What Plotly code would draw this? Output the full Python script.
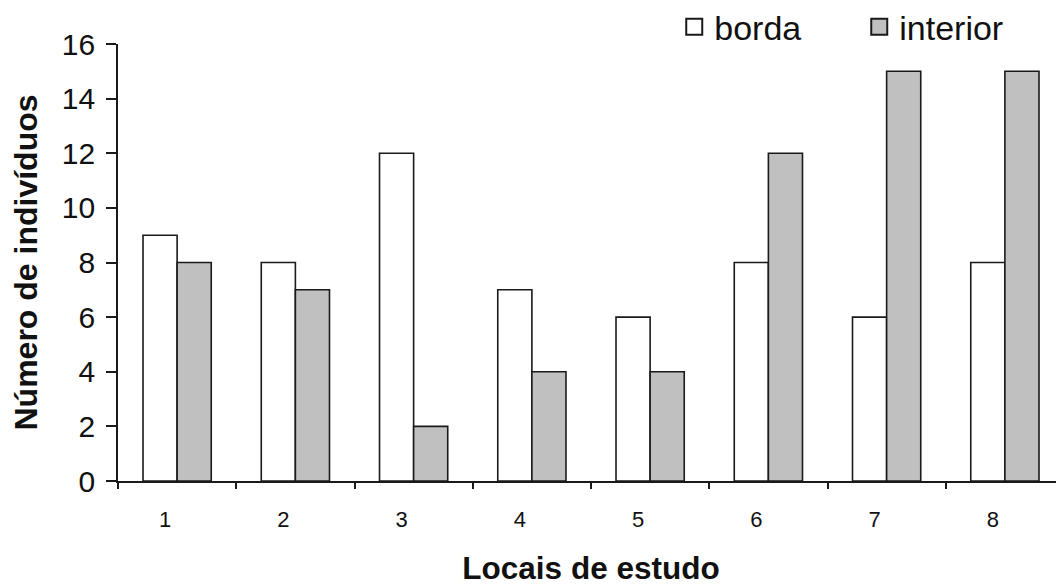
import plotly.graph_objects as go

categories = ["1", "2", "3", "4", "5", "6", "7", "8"]
borda = [9, 8, 12, 7, 6, 8, 6, 8]
interior = [8, 7, 2, 4, 4, 12, 15, 15]
y_ticks = [0, 2, 4, 6, 8, 10, 12, 14, 16]
series_names = ["borda", "interior"]
series_colors = ["white", "#c0c0c0"]
edge = "#1a1a1a"

fig = go.Figure()
for name, vals, col in zip(series_names, [borda, interior], series_colors):
    fig.add_trace(go.Bar(x=categories, y=vals, name=name, legendgroup=name,
                         showlegend=False,
                         marker=dict(color=col, line=dict(color=edge, width=1.6))))
# legend entries with larger square swatches
for name, col in zip(series_names, series_colors):
    fig.add_trace(go.Scatter(x=[None], y=[None], mode="markers", name=name,
                             legendgroup=name,
                             marker=dict(symbol="square", size=20, color=col,
                                         line=dict(color=edge, width=2))))

# the page body has an 8px margin, so the figure is 8px smaller than the window
fig.update_layout(
    width=1056, height=578,
    margin=dict(l=110, r=0, t=36, b=105, autoexpand=False),
    paper_bgcolor="white", plot_bgcolor="white",
    barmode="group", bargap=0.423, bargroupgap=0,
    font=dict(family="Liberation Sans, Arial, sans-serif", color="#111111"),
    legend=dict(orientation="h", x=0.588, y=1.105, xanchor="left", yanchor="top",
                font=dict(size=34), itemwidth=30, entrywidth=140,
                itemsizing="trace", tracegroupgap=0, bgcolor="rgba(0,0,0,0)"),
    xaxis=dict(
        type="category", tickson="boundaries", ticks="outside", ticklen=6,
        tickwidth=1.5, tickcolor=edge, showline=True, linecolor=edge, linewidth=1.6,
        tickfont=dict(size=22), ticklabelstandoff=18, ticklabelshift=-12,
        title=dict(text="<b>Locais de estudo</b>", font=dict(size=31.5), standoff=33),
        showgrid=False,
    ),
    yaxis=dict(
        range=[0, 16], tickvals=y_ticks, ticks="outside", ticklen=10,
        tickwidth=1.5, tickcolor=edge, showline=True, linecolor=edge, linewidth=1.6,
        tickfont=dict(size=30), ticklabelstandoff=5, showgrid=False, zeroline=False,
        title=dict(text="<b>Número de indivíduos</b>", font=dict(size=32), standoff=19),
    ),
)

fig.write_html("out.html")
